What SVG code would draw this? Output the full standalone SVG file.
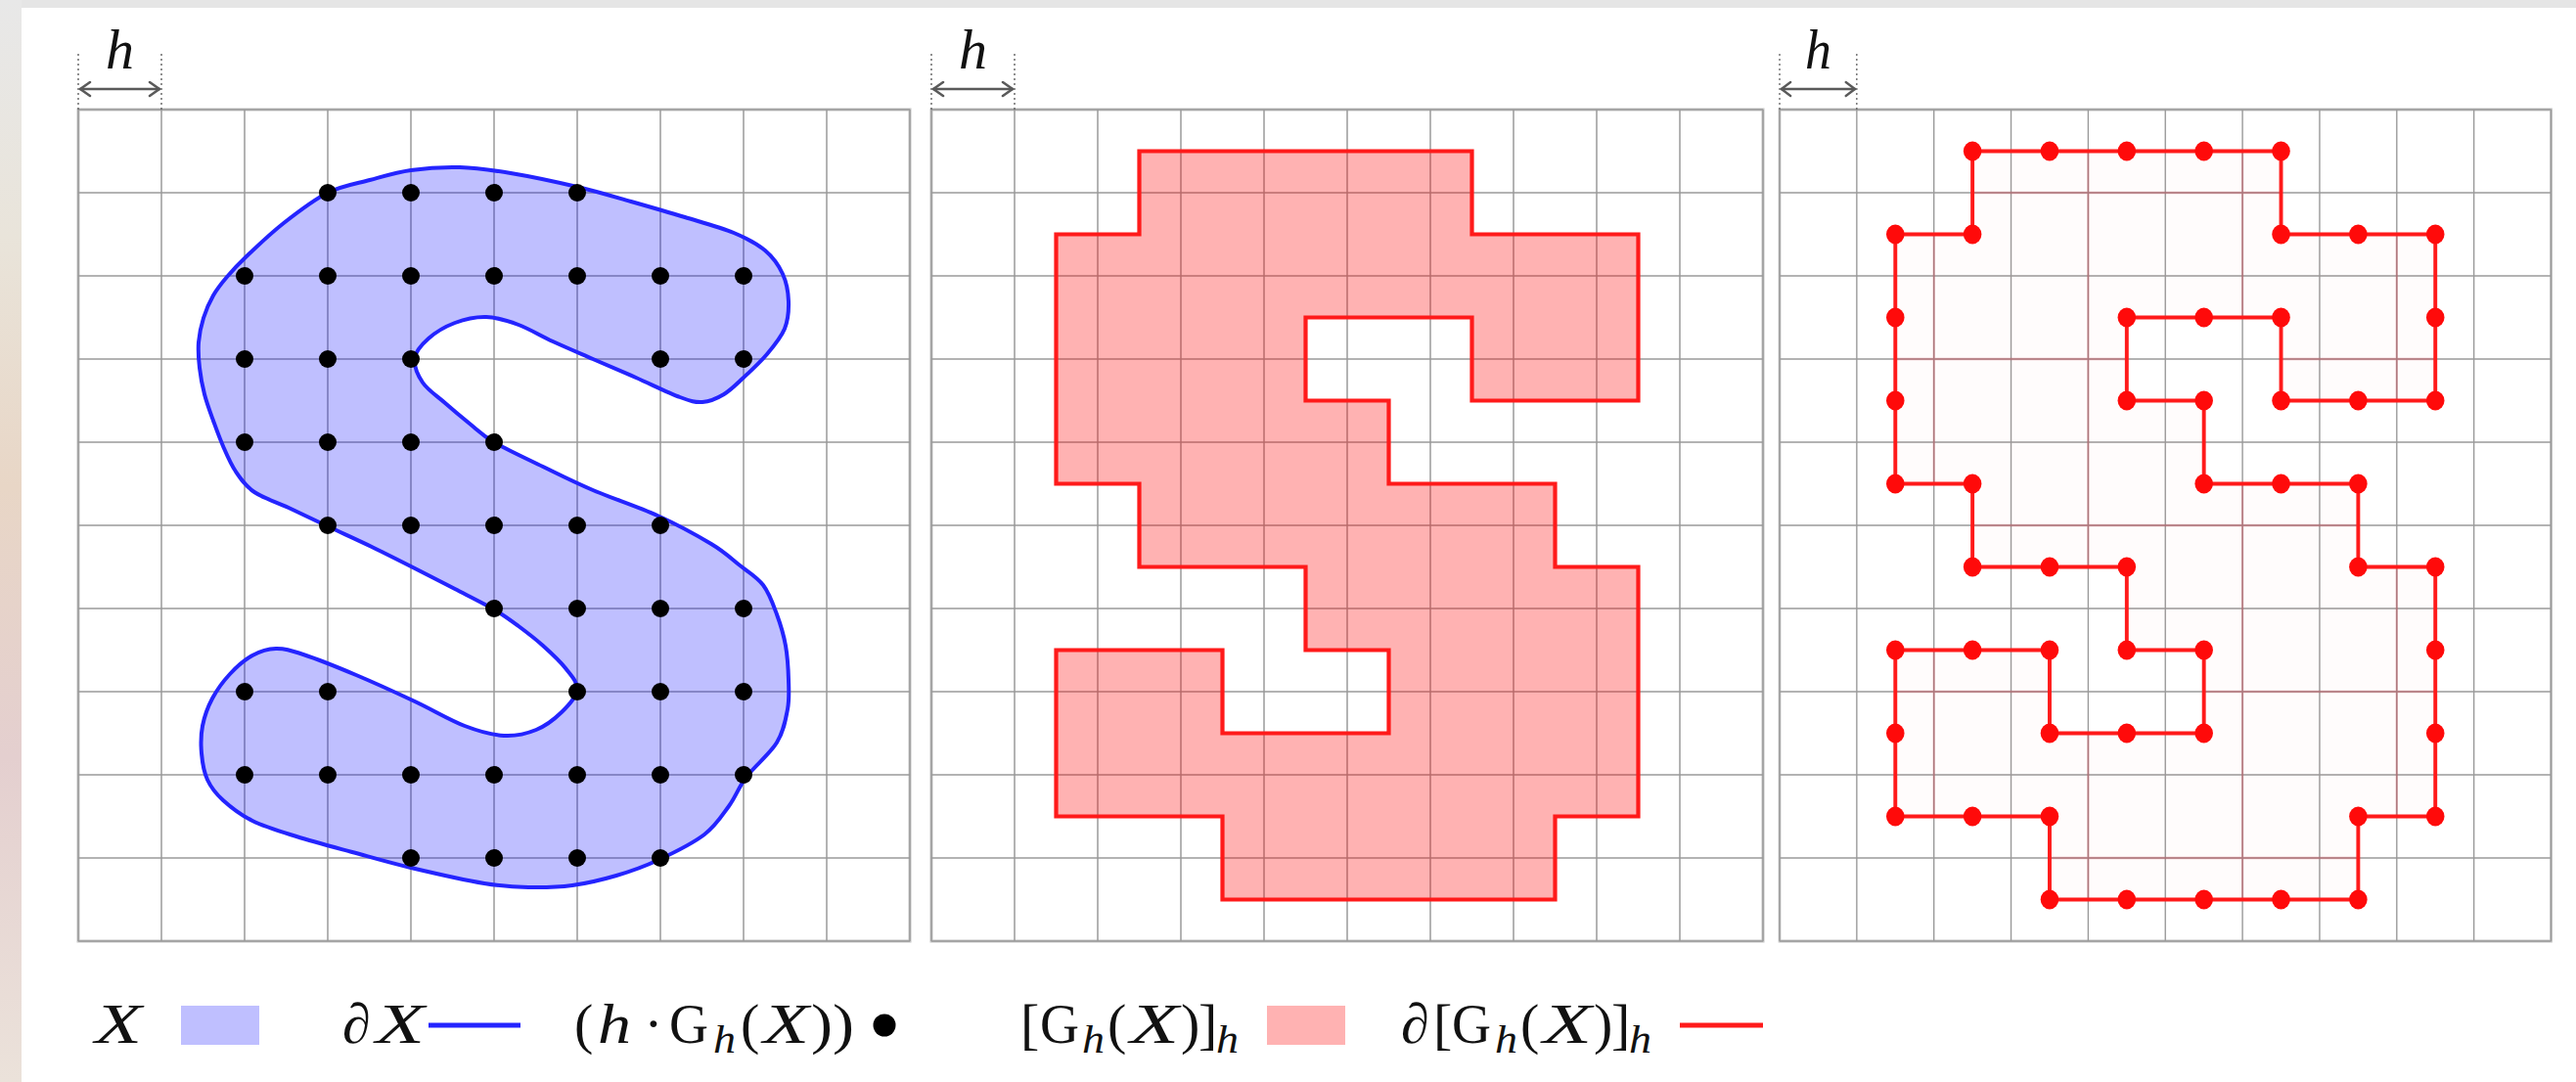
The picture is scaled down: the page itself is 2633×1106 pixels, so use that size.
<svg xmlns="http://www.w3.org/2000/svg" xmlns:xlink="http://www.w3.org/1999/xlink" width="2633" height="1106" viewBox="0 0 2633 1106">
<style>
.grid{fill:none;stroke:#9a9a9a;stroke-width:1.5}
.frame{fill:none;stroke:#c4c4c4;stroke-width:3}
.dotted{stroke:#555;stroke-width:1.3;stroke-dasharray:2 3}
.arr{fill:none;stroke:#5a5a5a;stroke-width:2.6;stroke-linecap:round;stroke-linejoin:round}
.m{font-family:"Liberation Serif","DejaVu Serif",serif;font-size:58px;fill:#111}
.i{font-style:italic}
.tt{font-family:"Liberation Serif","DejaVu Serif",serif;font-size:56px;fill:#111}
.sub{font-family:"Liberation Serif","DejaVu Serif",serif;font-style:italic;font-size:40px;fill:#111}
.blk circle{fill:#000}
.red circle{fill:#ff0a0a}
.pixfill{fill:#ff0000;fill-opacity:0.3}
.pixline{fill:none;stroke:#ff1a1a;stroke-width:4.2;stroke-linejoin:miter}
.pink{stroke:#c83a48;stroke-opacity:0.35;stroke-width:2.4}
</style>
<defs>
<linearGradient id="lbg" x1="0" y1="0" x2="0" y2="1">
<stop offset="0" stop-color="#e8e8e8"/>
<stop offset="0.22" stop-color="#e9e4da"/>
<stop offset="0.45" stop-color="#e8d6c6"/>
<stop offset="0.7" stop-color="#e4cfcf"/>
<stop offset="1" stop-color="#ebe2da"/>
</linearGradient>
<g id="grid">
<rect class="frame" x="80" y="112" width="850" height="850"/>
<path class="grid" d="M80 112V962M165 112V962M250 112V962M335 112V962M420 112V962M505 112V962M590 112V962M675 112V962M760 112V962M845 112V962M930 112V962M80 112H930M80 197H930M80 282H930M80 367H930M80 452H930M80 537H930M80 622H930M80 707H930M80 792H930M80 877H930M80 962H930"/>
</g>
<g id="hmark">
<line class="dotted" x1="80" y1="55" x2="80" y2="112"/>
<line class="dotted" x1="165" y1="55" x2="165" y2="112"/>
<line class="arr" x1="82" y1="91" x2="163" y2="91"/>
<path class="arr" d="M92 84L82 91L92 98M153 84L163 91L153 98"/>
<text class="m i" x="122.5" y="70" text-anchor="middle">h</text>
</g>
<polygon id="pix" points="1164.5,154.5 1504.5,154.5 1504.5,239.5 1674.5,239.5 1674.5,409.5 1504.5,409.5 1504.5,324.5 1334.5,324.5 1334.5,409.5 1419.5,409.5 1419.5,494.5 1589.5,494.5 1589.5,579.5 1674.5,579.5 1674.5,834.5 1589.5,834.5 1589.5,919.5 1249.5,919.5 1249.5,834.5 1079.5,834.5 1079.5,664.5 1249.5,664.5 1249.5,749.5 1419.5,749.5 1419.5,664.5 1334.5,664.5 1334.5,579.5 1164.5,579.5 1164.5,494.5 1079.5,494.5 1079.5,239.5 1164.5,239.5"/>
<clipPath id="pixclip"><use xlink:href="#pix"/></clipPath>
</defs>

<g id="background">
<rect x="0" y="0" width="2633" height="1106" fill="#ffffff"/>
<rect x="0" y="0" width="2633" height="8" fill="#e5e5e5"/>
<rect x="0" y="0" width="22" height="1106" fill="url(#lbg)"/>
</g>

<g id="panel1">
<use xlink:href="#grid"/>
<use xlink:href="#hmark"/>
<path id="shapeX" fill="#0000ff" fill-opacity="0.25" stroke="#2424ff" stroke-width="4" stroke-linejoin="round" d="M420,174 C435.3,171.8 453,170.5 470,171 S502,173.7 522,177 S569.5,186.2 590,191 S626.7,200.8 645,206 S682.5,216.7 700,222 S736.3,232.3 750,238 S773.7,249 782,256 S796,271.3 800,280 S805.7,298.7 806,308 S805.7,327 802,336 S791,353.7 784,362 S767.3,379.2 760,386 S747,398.8 740,403 S725.5,410.5 718,411 S706.3,410.2 695,406 S664.8,392.5 650,386 S620.2,373.2 606,367 S577.7,354.8 565,349 S541.3,336.2 530,332 S507.8,324.3 497,324 S474.8,326.3 465,330 S444.8,340 438,346 S425,358.5 424,366 S426.8,383.3 432,391 S447,405 455,412 S471.7,426.3 480,433 S492.5,444.7 505,452 S538.2,468.8 555,477 S586.5,492.7 606,501 S651.8,517.8 672,527 S713.2,547.7 727,556 S746.2,570 755,577 S773.5,589.5 780,598 S790.2,617.7 794,628 S801,648.8 803,660 S805.7,684.2 806,695 S807,714.3 805,725 S801,747.5 794,759 S771.2,783.2 763,794 S752.2,814.2 745,824 S732,843.8 720,853 S688,872 673,879 S644.7,890.7 630,895 S600,903 585,905 S555,907.3 540,907 S515,906.3 495,903 S442.5,892.3 420,887 S379.5,876.3 360,871 S320,860.3 303,855 S270.5,845.2 258,839 S235.7,825 228,818 S215.7,805 212,797 S206.8,779.2 206,770 S205.2,751.3 207,742 S212.3,722.8 217,714 S228.2,696.3 235,689 S250.2,674.3 258,670 S273.3,663.2 282,663 S296.3,664.5 310,669 S345,682 364,690 S405.5,708.3 424,717 S459.8,736.2 475,742 S502.8,751.3 515,752 S538.2,750 548,746 S567,734.8 574,728 S589.3,712.5 590,705 S583.8,690.5 578,683 S563,667.2 555,660 S538.3,646.2 530,640 S515.8,629.3 505,623 S478.5,609 465,602 S438.2,588.2 424,581 S394.8,566.2 380,559 S349.2,544.7 335,538 S307.5,524.8 295,519 S269,509.2 260,503 S246.3,489.8 241,482 S231.8,464.7 228,456 S221.2,438.8 218,430 S211.3,412 209,403 S205,384.8 204,376 S202.3,358.5 203,350 S205.5,333 208,325 S214,309 218,302 S226.3,289.7 232,283 S242.3,271.2 252,262 S276.2,238.8 290,228 S320.3,204.3 335,197 S363.8,187.8 378,184 S404.7,176.2 420,174 Z"/>
<g id="gridpoints" class="blk">
<circle cx="335" cy="197" r="9"/><circle cx="420" cy="197" r="9"/><circle cx="505" cy="197" r="9"/><circle cx="590" cy="197" r="9"/>
<circle cx="250" cy="282" r="9"/><circle cx="335" cy="282" r="9"/><circle cx="420" cy="282" r="9"/><circle cx="505" cy="282" r="9"/><circle cx="590" cy="282" r="9"/><circle cx="675" cy="282" r="9"/><circle cx="760" cy="282" r="9"/>
<circle cx="250" cy="367" r="9"/><circle cx="335" cy="367" r="9"/><circle cx="420" cy="367" r="9"/><circle cx="675" cy="367" r="9"/><circle cx="760" cy="367" r="9"/>
<circle cx="250" cy="452" r="9"/><circle cx="335" cy="452" r="9"/><circle cx="420" cy="452" r="9"/><circle cx="505" cy="452" r="9"/>
<circle cx="335" cy="537" r="9"/><circle cx="420" cy="537" r="9"/><circle cx="505" cy="537" r="9"/><circle cx="590" cy="537" r="9"/><circle cx="675" cy="537" r="9"/>
<circle cx="505" cy="622" r="9"/><circle cx="590" cy="622" r="9"/><circle cx="675" cy="622" r="9"/><circle cx="760" cy="622" r="9"/>
<circle cx="250" cy="707" r="9"/><circle cx="335" cy="707" r="9"/><circle cx="590" cy="707" r="9"/><circle cx="675" cy="707" r="9"/><circle cx="760" cy="707" r="9"/>
<circle cx="250" cy="792" r="9"/><circle cx="335" cy="792" r="9"/><circle cx="420" cy="792" r="9"/><circle cx="505" cy="792" r="9"/><circle cx="590" cy="792" r="9"/><circle cx="675" cy="792" r="9"/><circle cx="760" cy="792" r="9"/>
<circle cx="420" cy="877" r="9"/><circle cx="505" cy="877" r="9"/><circle cx="590" cy="877" r="9"/><circle cx="675" cy="877" r="9"/>
</g>
</g>

<g id="panel2">
<use xlink:href="#grid" transform="translate(872 0)"/>
<use xlink:href="#hmark" transform="translate(872 0)"/>
<use xlink:href="#pix" class="pixfill"/>
<use xlink:href="#pix" class="pixline"/>
</g>

<g id="panel3" transform="translate(1819 0) scale(0.92765 1) translate(-952 0)">
<use xlink:href="#grid" transform="translate(872 0)"/>
<use xlink:href="#hmark" transform="translate(872 0)"/>
<use xlink:href="#pix" fill="#ff0000" fill-opacity="0.012"/>
<g clip-path="url(#pixclip)">
<path class="pink" d="M1122 112V962M1292 112V962M1462 112V962M1632 112V962M952 197H1802M952 367H1802M952 537H1802M952 707H1802M952 877H1802"/>
</g>
<use xlink:href="#pix" class="pixline"/>
<g id="boundarypoints" class="red">
<circle cx="1164.5" cy="154.5" r="10"/><circle cx="1249.5" cy="154.5" r="10"/><circle cx="1334.5" cy="154.5" r="10"/><circle cx="1419.5" cy="154.5" r="10"/><circle cx="1504.5" cy="154.5" r="10"/>
<circle cx="1079.5" cy="239.5" r="10"/><circle cx="1164.5" cy="239.5" r="10"/><circle cx="1504.5" cy="239.5" r="10"/><circle cx="1589.5" cy="239.5" r="10"/><circle cx="1674.5" cy="239.5" r="10"/>
<circle cx="1079.5" cy="324.5" r="10"/><circle cx="1334.5" cy="324.5" r="10"/><circle cx="1419.5" cy="324.5" r="10"/><circle cx="1504.5" cy="324.5" r="10"/><circle cx="1674.5" cy="324.5" r="10"/>
<circle cx="1079.5" cy="409.5" r="10"/><circle cx="1334.5" cy="409.5" r="10"/><circle cx="1419.5" cy="409.5" r="10"/><circle cx="1504.5" cy="409.5" r="10"/><circle cx="1589.5" cy="409.5" r="10"/><circle cx="1674.5" cy="409.5" r="10"/>
<circle cx="1079.5" cy="494.5" r="10"/><circle cx="1164.5" cy="494.5" r="10"/><circle cx="1419.5" cy="494.5" r="10"/><circle cx="1504.5" cy="494.5" r="10"/><circle cx="1589.5" cy="494.5" r="10"/>
<circle cx="1164.5" cy="579.5" r="10"/><circle cx="1249.5" cy="579.5" r="10"/><circle cx="1334.5" cy="579.5" r="10"/><circle cx="1589.5" cy="579.5" r="10"/><circle cx="1674.5" cy="579.5" r="10"/>
<circle cx="1079.5" cy="664.5" r="10"/><circle cx="1164.5" cy="664.5" r="10"/><circle cx="1249.5" cy="664.5" r="10"/><circle cx="1334.5" cy="664.5" r="10"/><circle cx="1419.5" cy="664.5" r="10"/><circle cx="1674.5" cy="664.5" r="10"/>
<circle cx="1079.5" cy="749.5" r="10"/><circle cx="1249.5" cy="749.5" r="10"/><circle cx="1334.5" cy="749.5" r="10"/><circle cx="1419.5" cy="749.5" r="10"/><circle cx="1674.5" cy="749.5" r="10"/>
<circle cx="1079.5" cy="834.5" r="10"/><circle cx="1164.5" cy="834.5" r="10"/><circle cx="1249.5" cy="834.5" r="10"/><circle cx="1589.5" cy="834.5" r="10"/><circle cx="1674.5" cy="834.5" r="10"/>
<circle cx="1249.5" cy="919.5" r="10"/><circle cx="1334.5" cy="919.5" r="10"/><circle cx="1419.5" cy="919.5" r="10"/><circle cx="1504.5" cy="919.5" r="10"/><circle cx="1589.5" cy="919.5" r="10"/>
</g>
</g>

<g id="legend">
<g id="leg-X">
<text class="m i" x="97" y="1066" textLength="48" lengthAdjust="spacingAndGlyphs">X</text>
<rect x="185" y="1028" width="80" height="40" fill="#0000ff" fill-opacity="0.25"/>
</g>
<g id="leg-dX">
<text class="m" x="350" y="1066">∂</text>
<text class="m i" x="384" y="1066" textLength="50" lengthAdjust="spacingAndGlyphs">X</text>
<line x1="438" y1="1048" x2="532" y2="1048" stroke="#2424ff" stroke-width="5"/>
</g>
<g id="leg-pts">
<text class="m" x="587" y="1066">(</text>
<text class="m i" x="611" y="1066" textLength="34" lengthAdjust="spacingAndGlyphs">h</text>
<text class="m" x="668" y="1066" text-anchor="middle">·</text>
<text class="tt" x="684" y="1066" textLength="40" lengthAdjust="spacingAndGlyphs">G</text>
<text class="sub" x="729" y="1076" textLength="23" lengthAdjust="spacingAndGlyphs">h</text>
<text class="m" x="757" y="1066">(</text>
<text class="m i" x="780" y="1066" textLength="47" lengthAdjust="spacingAndGlyphs">X</text>
<text class="m" x="829" y="1066" textLength="44" lengthAdjust="spacingAndGlyphs">))</text>
<circle cx="904" cy="1048" r="11.5" fill="#000"/>
</g>
<g id="leg-pix">
<text class="m" x="1043" y="1066">[</text>
<text class="tt" x="1063" y="1066" textLength="40" lengthAdjust="spacingAndGlyphs">G</text>
<text class="sub" x="1106" y="1076" textLength="23" lengthAdjust="spacingAndGlyphs">h</text>
<text class="m" x="1132" y="1066">(</text>
<text class="m i" x="1155" y="1066" textLength="50" lengthAdjust="spacingAndGlyphs">X</text>
<text class="m" x="1207" y="1066">)</text>
<text class="m" x="1225" y="1066">]</text>
<text class="sub" x="1243" y="1076" textLength="23" lengthAdjust="spacingAndGlyphs">h</text>
<rect x="1295" y="1028" width="80" height="40" fill="#ff0000" fill-opacity="0.3"/>
</g>
<g id="leg-dpix">
<text class="m" x="1432" y="1066">∂</text>
<text class="m" x="1465" y="1066">[</text>
<text class="tt" x="1484" y="1066" textLength="40" lengthAdjust="spacingAndGlyphs">G</text>
<text class="sub" x="1528" y="1076" textLength="23" lengthAdjust="spacingAndGlyphs">h</text>
<text class="m" x="1554" y="1066">(</text>
<text class="m i" x="1577" y="1066" textLength="50" lengthAdjust="spacingAndGlyphs">X</text>
<text class="m" x="1629" y="1066">)</text>
<text class="m" x="1647" y="1066">]</text>
<text class="sub" x="1665" y="1076" textLength="23" lengthAdjust="spacingAndGlyphs">h</text>
<line x1="1717" y1="1048" x2="1802" y2="1048" stroke="#ff1a1a" stroke-width="5"/>
</g>
</g>
</svg>
